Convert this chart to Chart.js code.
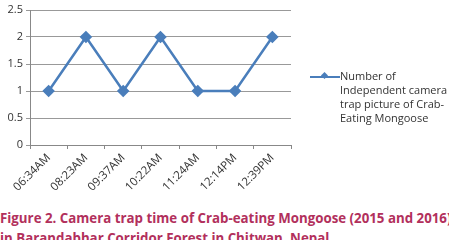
<!DOCTYPE html>
<html>
<head>
<meta charset="utf-8">
<script src="https://cdn.jsdelivr.net/npm/chart.js@4/dist/chart.umd.min.js"></script>
<style>
  body { margin: 0; background: #fff; width: 449px; height: 240px; overflow: hidden; position: relative; font-family: "Open Sans", "Liberation Sans", sans-serif; }
  #wrap { position: absolute; left: 0; top: 0; width: 449px; height: 205px; }
  #legend { position: absolute; left: 310px; top: 69px; font-size: 11px; line-height: 14px; color: #333; }
  #legend .swatch { position: absolute; left: 0; top: 7px; width: 30px; height: 2px; background: #4A7EBB; }
  #legend .swatch i { position: absolute; left: 12px; top: -3px; width: 5px; height: 5px; background: #4A7EBB; transform: rotate(45deg); }
  #legend .txt { margin-left: 30px; }
  #caption { position: absolute; left: 0; top: 208px; font-size: 13.3px; font-weight: bold; line-height: 20px; color: #B2305C; white-space: nowrap; }
</style>
</head>
<body>
<div id="wrap"><canvas id="chart" width="449" height="205"></canvas></div>
<div id="legend"><div class="swatch"><i></i></div><div class="txt">Number of<br>Independent camera<br>trap picture of Crab-<br>Eating Mongoose</div></div>
<div id="caption">Figure 2. Camera trap time of Crab-eating Mongoose (2015 and 2016)<br>in Barandabhar Corridor Forest in Chitwan, Nepal</div>
<script>
// categories and values
const trapTimes = ['06:34AM', '08:23AM', '09:37AM', '10:22AM', '11:24AM', '12:14PM', '12:39PM'];
const pictureCounts = [1, 2, 1, 2, 1, 1, 2];
const yTicks = [0, 0.5, 1, 1.5, 2, 2.5];

const ctx = document.getElementById('chart');
new Chart(ctx, {
    type: 'line',
    data: {
        labels: trapTimes,
        datasets: [{
            label: 'Number of Independent camera trap picture of Crab-Eating Mongoose',
            data: pictureCounts,
            borderColor: '#4A7EBB',
            backgroundColor: '#4A7EBB',
            borderWidth: 2.5,
            pointStyle: 'rectRot',
            pointRadius: 4.5,
            tension: 0
        }]
    },
    options: {
        responsive: false,
        animation: false,
        layout: { padding: { top: 10, right: 158, left: 0, bottom: 0 } },
        plugins: { legend: { display: false }, tooltip: { enabled: false } },
        scales: {
            x: {
                offset: true,
                afterFit: (axis) => { axis.height = 60; },
                grid: { offset: true, drawOnChartArea: false, drawTicks: true, tickLength: 4, color: '#888' },
                border: { color: '#888' },
                ticks: { minRotation: 45, maxRotation: 45, color: '#333', font: { size: 11.5, family: 'Open Sans' }, padding: 2 }
            },
            y: {
                min: 0,
                max: 2.5,
                afterFit: (axis) => { axis.width = 30; },
                afterBuildTicks: (axis) => { axis.ticks = yTicks.map(v => ({ value: v })); },
                grid: { color: '#999', tickLength: 4 },
                border: { color: '#888' },
                ticks: { color: '#333', font: { size: 11, family: 'Open Sans' }, padding: 3, callback: (v) => String(v) }
            }
        }
    }
});
</script>
</body>
</html>
